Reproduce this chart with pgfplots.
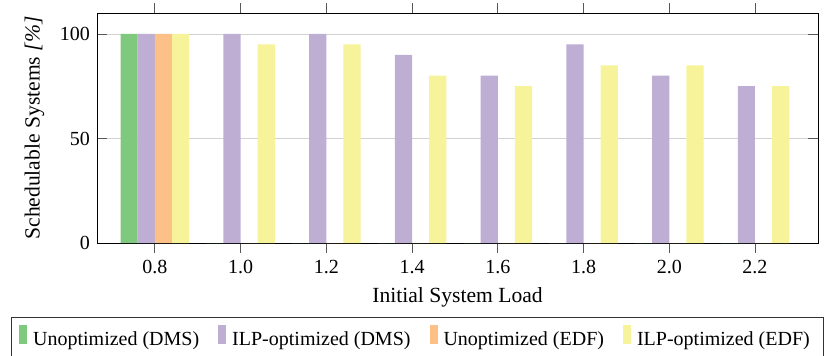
\documentclass[border=0pt]{standalone}
\usepackage{fontspec}
\setmainfont{Liberation Serif}
\usepackage{pgfplots}
\pgfplotsset{compat=1.18}
\definecolor{cA}{HTML}{7FC97F}
\definecolor{cB}{HTML}{BEAED4}
\definecolor{cC}{HTML}{FDC086}
\definecolor{cD}{HTML}{F6F39A}
\begin{document}
\begin{tikzpicture}
\begin{axis}[
  scale only axis,
  width=360.5pt, height=115pt,
  ybar=0pt, bar width=0.04,
  xmin=0.665, xmax=2.347,
  ymin=0, ymax=110,
  xtick={0.8,1.0,1.2,1.4,1.6,1.8,2.0,2.2},
  ytick={0,50,100},
  /pgf/number format/assume math mode=true,
  xticklabel style={/pgf/number format/.cd, fixed, fixed zerofill, precision=1},
  xtick align=outside,
  ytick align=inside,
  major tick length=5pt,
  tick style={gray!70!black, thin},
  ymajorgrids, grid style={gray!35, thin},
  xlabel={Initial System Load},
  ylabel={Schedulable Systems \textit{[\%]}},
  label style={font=\fontsize{10.8pt}{13pt}\selectfont},
  ylabel style={yshift=1pt},
  legend columns=4,
  legend style={at={(0.4445,-0.322)}, anchor=north, draw=black!80, inner xsep=4pt, inner ysep=4pt,
    font=\fontsize{10pt}{12pt}\selectfont,
    nodes={inner xsep=3pt},
    /tikz/every even column/.append style={column sep=6.5pt},
    /tikz/every odd column/.append style={column sep=0pt}},
  legend image code/.code={\fill[#1] (0pt,-2pt) rectangle (4pt,7.5pt);},
  every axis plot/.append style={draw=none},
]
\addplot[fill=cA] coordinates {(0.8,100) (1.0,0) (1.2,0) (1.4,0) (1.6,0) (1.8,0) (2.0,0) (2.2,0)};
\addplot[fill=cB] coordinates {(0.8,100) (1.0,100) (1.2,100) (1.4,90) (1.6,80) (1.8,95) (2.0,80) (2.2,75)};
\addplot[fill=cC] coordinates {(0.8,100) (1.0,0) (1.2,0) (1.4,0) (1.6,0) (1.8,0) (2.0,0) (2.2,0)};
\addplot[fill=cD] coordinates {(0.8,100) (1.0,95) (1.2,95) (1.4,80) (1.6,75) (1.8,85) (2.0,85) (2.2,75)};
\legend{Unoptimized (DMS), ILP-optimized (DMS), Unoptimized (EDF), ILP-optimized (EDF)}
\coordinate (sw) at (rel axis cs:0,0);
\coordinate (ne) at (rel axis cs:1,1);
\end{axis}
\pgfresetboundingbox
\path[use as bounding box] ([xshift=-48.5pt,yshift=-56pt]sw) rectangle ([xshift=6.5pt,yshift=6.5pt]ne);
\end{tikzpicture}
\end{document}
